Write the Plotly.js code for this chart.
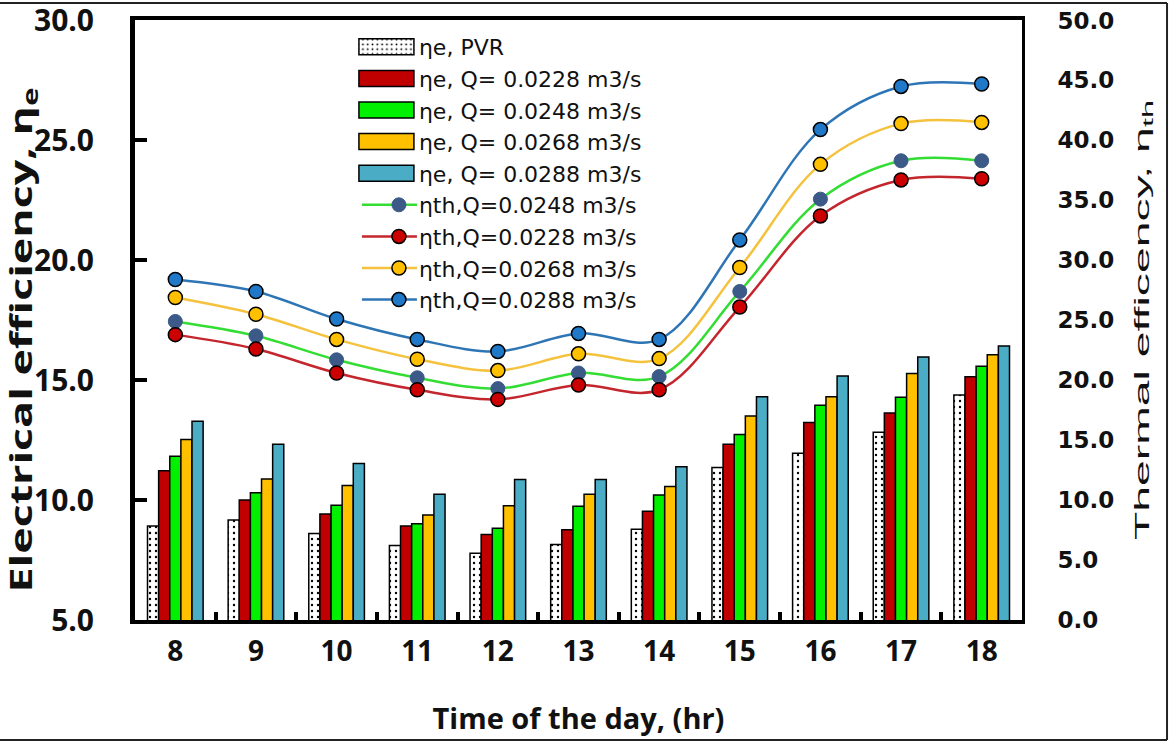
<!DOCTYPE html>
<html><head><meta charset="utf-8">
<script src="https://cdn.plot.ly/plotly-3.0.1.min.js"></script>
<style>html,body{margin:0;padding:0;background:#fff;}#chart{width:1176px;height:742px;}</style>
</head><body><div id="chart"></div>
<script>
// Categories (hour of the day)
const hours = ['8','9','10','11','12','13','14','15','16','17','18'];

// Tick values of the two value axes
const eTicks  = [5, 10, 15, 20, 25, 30];
const thTicks = [0, 5, 10, 15, 20, 25, 30, 35, 40, 45, 50];

// Electrical efficiency (left axis)
const eta_e_PVR   = [8.92, 9.17, 8.61, 8.11, 7.78, 8.15, 8.78, 11.36, 11.95, 12.83, 14.38];
const eta_e_Q0228 = [11.22, 10.00, 9.42, 8.92, 8.57, 8.76, 9.54, 12.33, 13.24, 13.63, 15.14];
const eta_e_Q0248 = [11.83, 10.31, 9.79, 9.01, 8.83, 9.74, 10.21, 12.74, 13.95, 14.29, 15.58];
const eta_e_Q0268 = [12.53, 10.88, 10.61, 9.38, 9.76, 10.24, 10.57, 13.51, 14.31, 15.28, 16.06];
const eta_e_Q0288 = [13.29, 12.33, 11.53, 10.24, 10.86, 10.86, 11.39, 14.31, 15.18, 15.97, 16.43];

// Thermal efficiency (right axis)
const eta_th_Q0248 = [24.9, 23.7, 21.7, 20.2, 19.3, 20.6, 20.3, 27.4, 35.1, 38.3, 38.3];
const eta_th_Q0228 = [23.8, 22.6, 20.6, 19.2, 18.4, 19.6, 19.2, 26.1, 33.7, 36.7, 36.8];
const eta_th_Q0268 = [26.9, 25.5, 23.4, 21.75, 20.8, 22.2, 21.8, 29.4, 38.0, 41.4, 41.5];
const eta_th_Q0288 = [28.4, 27.4, 25.1, 23.4, 22.4, 23.9, 23.4, 31.7, 40.9, 44.5, 44.7];

const barLine = {color:'#000', width:1.5};
function bar(name, y, color, pattern){
  const m = {color:color, line:barLine};
  if (pattern) m.pattern = pattern;
  return {type:'bar', name:name, x:hours, y:y, yaxis:'y', marker:m};
}
function line(name, y, lc, mc, mline){
  return {type:'scatter', mode:'lines+markers', name:name, x:hours, y:y, yaxis:'y2',
    line:{color:lc, width:2.5, shape:'spline', smoothing:1},
    marker:{size:14, color:mc, line:mline}};
}

const data = [
  bar('ηe, PVR', eta_e_PVR, '#ffffff', {shape:'.', fgcolor:'#000', bgcolor:'#fff', size:6, solidity:0.12}),
  bar('ηe, Q= 0.0228 m3/s', eta_e_Q0228, '#C00000'),
  bar('ηe, Q= 0.0248 m3/s', eta_e_Q0248, '#00F000'),
  bar('ηe, Q= 0.0268 m3/s', eta_e_Q0268, '#FFC000'),
  bar('ηe, Q= 0.0288 m3/s', eta_e_Q0288, '#4BACC6'),
  line('ηth,Q=0.0248 m3/s', eta_th_Q0248, '#33DD33', '#3B5A88', {color:'#3B5A88', width:1}),
  line('ηth,Q=0.0228 m3/s', eta_th_Q0228, '#C4262E', '#CC0000', {color:'#000', width:1.5}),
  line('ηth,Q=0.0268 m3/s', eta_th_Q0268, '#F5C23E', '#FFC000', {color:'#000', width:1.5}),
  line('ηth,Q=0.0288 m3/s', eta_th_Q0288, '#2E75B6', '#1F78C8', {color:'#000', width:1.5})
];

const boldFont = (size) => ({family:'Open Sans', size:size, weight:'bold', color:'#111'});

const layout = {
  width:1176, height:742,
  margin:{l:135, r:154, t:20, b:122, pad:0},
  paper_bgcolor:'#fff', plot_bgcolor:'#fff',
  barmode:'group', bargap:0.31, bargroupgap:0,
  showlegend:true,
  legend:{x:0.275, xanchor:'left', y:0.99, yanchor:'top',
    font:{family:'DejaVu Sans', size:22, color:'#111'},
    bgcolor:'rgba(0,0,0,0)', itemwidth:30, tracegroupgap:0},
  xaxis:{type:'category', range:[-0.5,10.5], showline:true, linewidth:4, linecolor:'#000', mirror:true,
    ticks:'inside', tickson:'boundaries', ticklen:8, tickwidth:4, tickcolor:'#000',
    tickfont:boldFont(28), ticklabelstandoff:3, showgrid:false, zeroline:false, automargin:false,
    title:{text:'Time of the day, (hr)', font:boldFont(29), standoff:42}},
  yaxis:{range:[5,30.02], tickmode:'array', tickvals:eTicks, tickformat:'.1f',
    showline:true, linewidth:5, linecolor:'#000', ticklabeloverflow:'allow',
    ticks:'inside', ticklen:12, tickwidth:4, tickcolor:'#000',
    tickfont:boldFont(30), ticklabelstandoff:30, showgrid:false, zeroline:false, automargin:false,
    title:{text:'Electrical efficiency, η<sub>e</sub>', font:boldFont(30), standoff:6}},
  yaxis2:{overlaying:'y', side:'right', range:[0,50.04], tickmode:'array', tickvals:thTicks, tickformat:'.1f',
    showline:true, linewidth:3, linecolor:'#000', ticks:'', ticklabeloverflow:'allow',
    tickfont:{family:'DejaVu Sans', size:23, weight:'bold', color:'#111'}, ticklabelstandoff:28,
    showgrid:false, zeroline:false, automargin:false,
    title:{text:'Thermal efficency, η<sub>th</sub>', font:{family:'Liberation Sans', size:20, color:'#111'}, standoff:22}},
  shapes:[
    {type:'line', xref:'paper', yref:'paper', x0:-0.16, x1:1.1635, y0:1.0283, y1:1.0283, line:{color:'#222', width:2}},
    {type:'line', xref:'paper', yref:'paper', x0:1.1635, x1:1.1635, y0:-0.2, y1:1.0283, line:{color:'#222', width:2}},
    {type:'line', xref:'paper', yref:'paper', x0:-0.16, x1:1.1635, y0:-0.2, y1:-0.2, line:{color:'#222', width:2}}
  ]
};

function stretch(el, len, dy){
  if (!el) return;
  el.setAttribute('textLength', len);
  el.setAttribute('lengthAdjust', 'spacingAndGlyphs');
  if (dy) {
    const t = el.getAttribute('transform') || '';
    el.setAttribute('transform', 'translate(0,' + dy + ') ' + t);
  }
}

// widen legend swatches to the long rectangles / lines of the original legend
function widenLegend(gd){
  gd.querySelectorAll('.legend [clip-path]').forEach(function(g){ g.removeAttribute('clip-path'); });
  gd.querySelectorAll('.legend .legendpoints path').forEach(function(p){
    const d = (p.getAttribute('d') || '').replace(/\s/g,'');
    if (d === 'M6,6H-6V-6H6Z') p.setAttribute('d', 'M15,8H-40V-8H15Z');
  });
  gd.querySelectorAll('.legend .legendlines path').forEach(function(p){
    const d = (p.getAttribute('d') || '').replace(/\s/g,'');
    if (d.indexOf('M5,0h30') === 0) p.setAttribute('d', 'M-17,0h55');
  });
}

Plotly.newPlot('chart', data, layout, {staticPlot:true}).then(function(gd){
  stretch(gd.querySelector('.ytitle'), 505, 20);
  stretch(gd.querySelector('.y2title'), 440, 0);
  widenLegend(gd);
});
</script>
</body></html>
